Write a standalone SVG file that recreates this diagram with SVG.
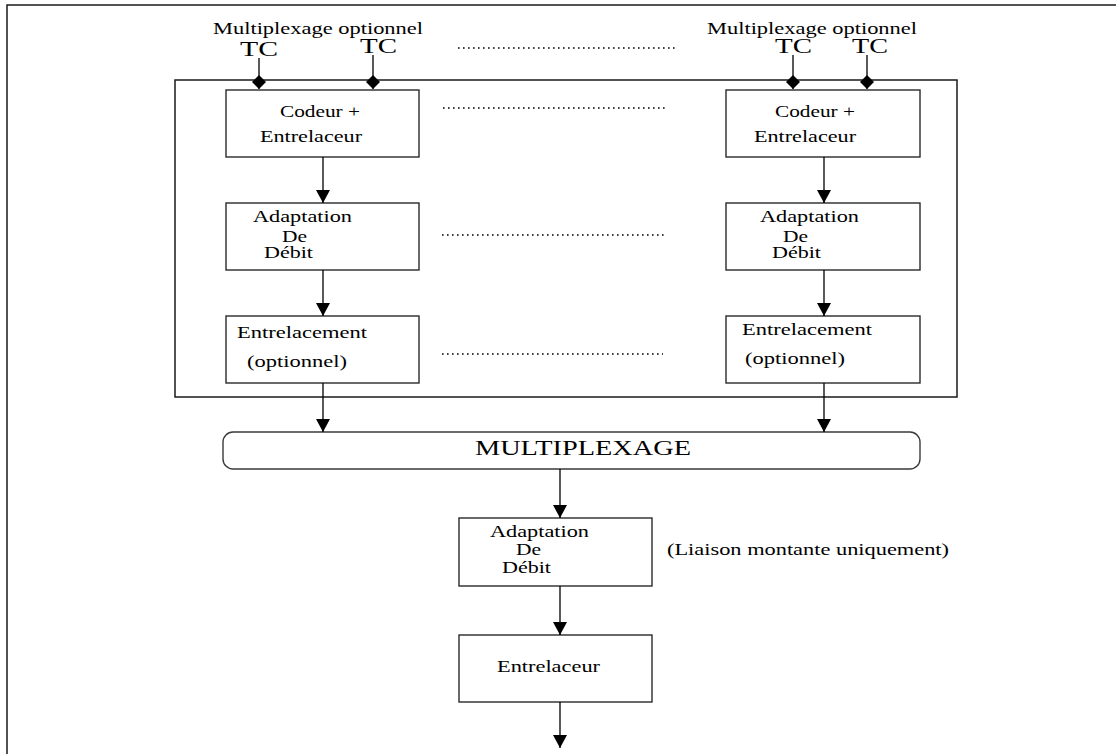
<svg xmlns="http://www.w3.org/2000/svg" width="1116" height="754" viewBox="0 0 1116 754">
<style>
  text { font-family: "Liberation Serif", "Times New Roman", serif; fill: #000; }
  .t16 { font-size: 16px; }
  .t17 { font-size: 17.5px; }
  .t22 { font-size: 22px; }
  .box { fill: #fff; stroke: #2a2a2a; stroke-width: 1.4; }
  .frame { fill: none; stroke: #1a1a1a; stroke-width: 1.5; }
  .conn { stroke: #000; stroke-width: 1.3; fill: none; }
  .arrow { marker-end: url(#arrowHead); }
  .diam { marker-end: url(#diamondHead); }
  .dots { stroke: #000; stroke-width: 1.6; stroke-dasharray: 1.6 3.4; fill: none; }
</style>
<defs>
  <marker id="arrowHead" markerUnits="userSpaceOnUse" markerWidth="14" markerHeight="16" viewBox="0 -8 14 16" refX="13" refY="0" orient="auto">
    <path d="M0,-7 L13,0 L0,7 Z" fill="#000"/>
  </marker>
  <marker id="diamondHead" markerUnits="userSpaceOnUse" markerWidth="16" markerHeight="16" viewBox="0 -8 16 16" refX="14" refY="0" orient="auto">
    <path d="M0,0 L7,-7 L14,0 L7,7 Z" fill="#000"/>
  </marker>
</defs>
<rect width="1116" height="754" fill="#fff"/>

<g id="outer-frame">
  <rect class="frame" x="7" y="5" width="1200" height="800"/>
</g>
<g id="inner-frame">
  <rect class="frame" x="175" y="80" width="782" height="317"/>
</g>

<g id="inputs">
  <text class="t16" x="213" y="34" textLength="210" lengthAdjust="spacingAndGlyphs">Multiplexage optionnel</text>
  <text class="t22" x="240" y="56" textLength="38" lengthAdjust="spacingAndGlyphs">TC</text>
  <text class="t22" x="360" y="53" textLength="37" lengthAdjust="spacingAndGlyphs">TC</text>
  <text class="t16" x="707" y="34" textLength="210" lengthAdjust="spacingAndGlyphs">Multiplexage optionnel</text>
  <text class="t22" x="775" y="53" textLength="37" lengthAdjust="spacingAndGlyphs">TC</text>
  <text class="t22" x="852" y="53" textLength="36" lengthAdjust="spacingAndGlyphs">TC</text>
</g>

<g id="dotted-lines">
  <line class="dots" x1="458" y1="48" x2="677" y2="48"/>
  <line class="dots" x1="443" y1="108" x2="666" y2="108"/>
  <line class="dots" x1="442" y1="235" x2="665" y2="235"/>
  <line class="dots" x1="442" y1="354" x2="663" y2="354"/>
</g>

<g id="codeur-left">
  <rect class="box" x="226" y="90" width="193" height="67"/>
  <text class="t17" x="280" y="117" textLength="80" lengthAdjust="spacingAndGlyphs">Codeur +</text>
  <text class="t17" x="260" y="142" textLength="102" lengthAdjust="spacingAndGlyphs">Entrelaceur</text>
</g>
<g id="codeur-right">
  <rect class="box" x="726" y="90" width="194" height="67"/>
  <text class="t17" x="775" y="117" textLength="80" lengthAdjust="spacingAndGlyphs">Codeur +</text>
  <text class="t17" x="754" y="142" textLength="102" lengthAdjust="spacingAndGlyphs">Entrelaceur</text>
</g>

<g id="adaptation-left">
  <rect class="box" x="226" y="203" width="193" height="67"/>
  <text class="t17" x="253" y="222" textLength="99" lengthAdjust="spacingAndGlyphs">Adaptation</text>
  <text class="t17" x="282" y="242" textLength="25" lengthAdjust="spacingAndGlyphs">De</text>
  <text class="t17" x="264" y="258" textLength="49" lengthAdjust="spacingAndGlyphs">Débit</text>
</g>
<g id="adaptation-right">
  <rect class="box" x="726" y="203" width="194" height="67"/>
  <text class="t17" x="760" y="222" textLength="99" lengthAdjust="spacingAndGlyphs">Adaptation</text>
  <text class="t17" x="783" y="242" textLength="25" lengthAdjust="spacingAndGlyphs">De</text>
  <text class="t17" x="772" y="258" textLength="49" lengthAdjust="spacingAndGlyphs">Débit</text>
</g>

<g id="entrelacement-left">
  <rect class="box" x="226" y="316" width="193" height="67"/>
  <text class="t17" x="237" y="338" textLength="130" lengthAdjust="spacingAndGlyphs">Entrelacement</text>
  <text class="t17" x="247" y="367" textLength="100" lengthAdjust="spacingAndGlyphs">(optionnel)</text>
</g>
<g id="entrelacement-right">
  <rect class="box" x="726" y="316" width="194" height="67"/>
  <text class="t17" x="742" y="335" textLength="130" lengthAdjust="spacingAndGlyphs">Entrelacement</text>
  <text class="t17" x="745" y="364" textLength="100" lengthAdjust="spacingAndGlyphs">(optionnel)</text>
</g>

<g id="multiplexage">
  <rect x="223" y="432" width="697" height="37" rx="10" ry="10" fill="#fff" stroke="#3a3a3a" stroke-width="1.4"/>
  <text class="t22" x="475" y="455" textLength="216" lengthAdjust="spacingAndGlyphs">MULTIPLEXAGE</text>
</g>

<g id="adaptation-bottom">
  <rect class="box" x="459" y="518" width="193" height="68"/>
  <text class="t17" x="490" y="537" textLength="99" lengthAdjust="spacingAndGlyphs">Adaptation</text>
  <text class="t17" x="516" y="555" textLength="25" lengthAdjust="spacingAndGlyphs">De</text>
  <text class="t17" x="502" y="573" textLength="49" lengthAdjust="spacingAndGlyphs">Débit</text>
</g>
<g id="note">
  <text class="t17" x="667" y="555" textLength="282" lengthAdjust="spacingAndGlyphs">(Liaison montante uniquement)</text>
</g>
<g id="entrelaceur-bottom">
  <rect class="box" x="459" y="635" width="193" height="67"/>
  <text class="t17" x="497" y="672" textLength="103" lengthAdjust="spacingAndGlyphs">Entrelaceur</text>
</g>

<g id="connectors">
  <line class="conn diam" x1="259" y1="58" x2="259" y2="89"/>
  <line class="conn diam" x1="373" y1="55" x2="373" y2="89"/>
  <line class="conn diam" x1="793" y1="55" x2="793" y2="89"/>
  <line class="conn diam" x1="867" y1="55" x2="867" y2="89"/>

  <line class="conn arrow" x1="323" y1="157" x2="323" y2="203"/>
  <line class="conn arrow" x1="323" y1="270" x2="323" y2="316"/>
  <line class="conn arrow" x1="323" y1="383" x2="323" y2="432"/>
  <line class="conn arrow" x1="824" y1="157" x2="824" y2="203"/>
  <line class="conn arrow" x1="824" y1="270" x2="824" y2="316"/>
  <line class="conn arrow" x1="824" y1="383" x2="824" y2="432"/>

  <line class="conn arrow" x1="560" y1="469" x2="560" y2="518"/>
  <line class="conn arrow" x1="560" y1="586" x2="560" y2="635"/>
  <line class="conn arrow" x1="560" y1="702" x2="560" y2="748"/>
</g>
</svg>
